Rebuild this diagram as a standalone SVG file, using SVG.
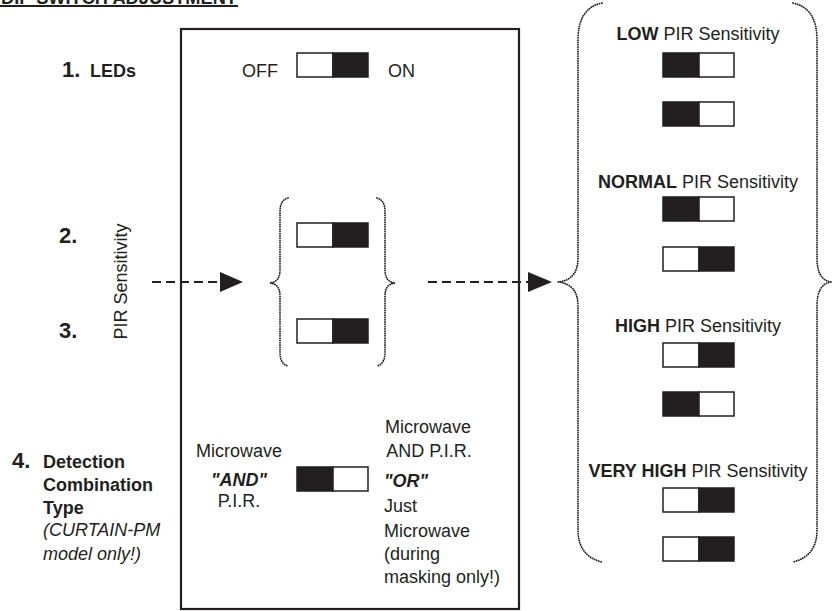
<svg xmlns="http://www.w3.org/2000/svg" width="832" height="611" viewBox="0 0 832 611">
<style>
text{font-family:"Liberation Sans",Arial,sans-serif;fill:#231f20;font-size:18px}
.b{font-weight:bold}
.bi{font-weight:bold;font-style:italic}
.i{font-style:italic}
.num{font-weight:bold;font-size:22px}
.mid{text-anchor:middle}
.sw{stroke:#231f20;stroke-width:1.5}
.brace{fill:none;stroke:#231f20;stroke-width:1.8;stroke-dasharray:0.1 2.2;stroke-linecap:round}
.dash{stroke:#231f20;stroke-width:2;stroke-dasharray:9 5;fill:none}
</style>
<defs>
<g id="swR"><rect x="0" y="0" width="36" height="24" fill="#fff" class="sw"/><rect x="36" y="0" width="35" height="24" fill="#231f20" class="sw"/></g>
<g id="swL"><rect x="0" y="0" width="36" height="24" fill="#231f20" class="sw"/><rect x="36" y="0" width="35" height="24" fill="#fff" class="sw"/></g>
</defs>

<g id="title">
<text x="1" y="4" class="b" textLength="236" lengthAdjust="spacingAndGlyphs">DIP SWITCH ADJUSTMENT</text>
<line x1="0" y1="6" x2="238" y2="6" stroke="#231f20" stroke-width="1.8"/>
</g>

<g id="panel">
<rect x="181" y="29" width="338" height="580" fill="none" stroke="#231f20" stroke-width="2.2"/>
</g>

<g id="led">
<text x="62" y="77" class="num">1.</text>
<text x="90" y="77" class="b" font-size="17">LEDs</text>
<text x="242" y="77">OFF</text>
<use href="#swR" x="297" y="53"/>
<text x="388" y="77">ON</text>
</g>

<g id="pir">
<text x="59" y="243" class="num">2.</text>
<text x="59" y="338" class="num">3.</text>
<text transform="translate(127,281.5) rotate(-90)" class="mid">PIR Sensitivity</text>
</g>

<g id="pir-switches">
<path class="brace" d="M288,198 Q280,200 280,212 L280,270 Q280,282 270,283 Q280,284 280,296 L280,352 Q280,364 288,366"/>
<path class="brace" d="M377,198 Q385,200 385,212 L385,270 Q385,282 395,283 Q385,284 385,296 L385,352 Q385,364 377,366"/>
<use href="#swR" x="297" y="223"/>
<use href="#swR" x="297" y="319"/>
</g>

<g id="detection">
<text x="12" y="468" class="num" font-size="21">4.</text>
<text x="43" y="468" class="b">Detection</text>
<text x="43" y="491" class="b">Combination</text>
<text x="43" y="514" class="b">Type</text>
<text x="43" y="536" class="i" font-size="17">(CURTAIN-PM</text>
<text x="43" y="560" class="i" font-size="17">model only!)</text>
</g>

<g id="combo">
<text x="239" y="457" class="mid">Microwave</text>
<text x="239" y="486" class="mid bi" font-size="22">"AND"</text>
<text x="239" y="507" class="mid" font-size="17">P.I.R.</text>
<use href="#swL" x="297" y="467"/>
<text x="428" y="433" class="mid">Microwave</text>
<text x="429" y="457" class="mid">AND P.I.R.</text>
<text x="384" y="487" class="bi" font-size="22">"OR"</text>
<text x="384" y="512">Just</text>
<text x="384" y="537">Microwave</text>
<text x="384" y="560">(during</text>
<text x="384" y="583">masking only!)</text>
</g>

<g id="sensitivity-table">
<path class="brace" d="M602,3 Q578,8 578,40 L578,258 Q578,280 558,282 Q578,284 578,306 L578,530 Q578,556 602,562"/>
<path class="brace" d="M793,3 Q817,8 817,40 L817,258 Q817,280 831,282 Q817,284 817,306 L817,530 Q817,556 793,562"/>
<text x="698" y="40" class="mid"><tspan class="b">LOW</tspan> PIR Sensitivity</text>
<use href="#swL" x="663" y="53"/>
<use href="#swL" x="663" y="102"/>
<text x="698" y="188" class="mid"><tspan class="b">NORMAL</tspan> PIR Sensitivity</text>
<use href="#swL" x="663" y="197"/>
<use href="#swR" x="663" y="247"/>
<text x="698" y="332" class="mid"><tspan class="b">HIGH</tspan> PIR Sensitivity</text>
<use href="#swR" x="663" y="343"/>
<use href="#swL" x="663" y="392"/>
<text x="698" y="477" class="mid"><tspan class="b">VERY HIGH</tspan> PIR Sensitivity</text>
<use href="#swR" x="663" y="488"/>
<use href="#swR" x="663" y="537"/>
</g>

<g id="connectors">
<line class="dash" x1="152" y1="282" x2="220" y2="282"/>
<polygon points="220,272 243,282 220,292" fill="#231f20"/>
<line class="dash" x1="428" y1="282" x2="528" y2="282"/>
<polygon points="528,272 552,282 528,292" fill="#231f20"/>
</g>
</svg>
